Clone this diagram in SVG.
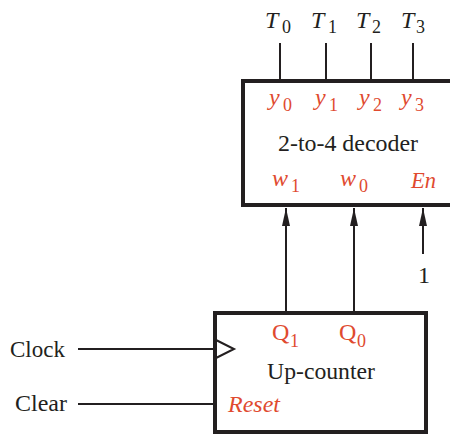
<svg xmlns="http://www.w3.org/2000/svg" width="450" height="436" viewBox="0 0 450 436">
<style>
text{font-family:"Liberation Serif","Times New Roman",serif;font-size:24px;fill:#231f20}
.r{fill:#e04a2f}
.i{font-style:italic}
.s{font-size:18px;font-style:normal}
.box{fill:#fff;stroke:#231f20;stroke-width:4}
.w{stroke:#231f20;stroke-width:2;fill:none}
</style>
<defs>
<marker id="ah" viewBox="0 0 18 8" refX="18" refY="4" markerWidth="18" markerHeight="8" markerUnits="userSpaceOnUse" orient="auto">
<path d="M0,0 L18,4 L0,8 Z" fill="#231f20"/>
</marker>
</defs>
<g id="connectors">
<line class="w" x1="280" y1="43" x2="280" y2="81"/>
<line class="w" x1="326" y1="43" x2="326" y2="81"/>
<line class="w" x1="371" y1="43" x2="371" y2="81"/>
<line class="w" x1="413" y1="43" x2="413" y2="81"/>
<line class="w" x1="286" y1="313" x2="286" y2="208" marker-end="url(#ah)"/>
<line class="w" x1="354" y1="313" x2="354" y2="208" marker-end="url(#ah)"/>
<line class="w" x1="423" y1="254" x2="423" y2="208" marker-end="url(#ah)"/>
<line class="w" x1="78" y1="349" x2="215" y2="349"/>
<line class="w" x1="78" y1="404" x2="215" y2="404"/>
</g>
<g id="labels">
<text x="265" y="28"><tspan class="i">T</tspan><tspan class="s" x="282" dy="5">0</tspan></text>
<text x="311" y="28"><tspan class="i">T</tspan><tspan class="s" x="328" dy="5">1</tspan></text>
<text x="356" y="28"><tspan class="i">T</tspan><tspan class="s" x="372" dy="5">2</tspan></text>
<text x="401" y="28"><tspan class="i">T</tspan><tspan class="s" x="416" dy="5">3</tspan></text>
<text x="418" y="283">1</text>
<text x="10" y="357" textLength="55" lengthAdjust="spacingAndGlyphs">Clock</text>
<text x="15" y="411" textLength="52" lengthAdjust="spacingAndGlyphs">Clear</text>
</g>
<g id="decoder">
<rect class="box" x="243" y="81" width="210" height="124"/>
<text class="r i" x="269" y="105">y<tspan class="s" x="283" dy="6">0</tspan></text>
<text class="r i" x="315" y="105">y<tspan class="s" x="329" dy="6">1</tspan></text>
<text class="r i" x="359" y="105">y<tspan class="s" x="373" dy="6">2</tspan></text>
<text class="r i" x="401" y="105">y<tspan class="s" x="415" dy="6">3</tspan></text>
<text x="278" y="151" textLength="140" lengthAdjust="spacingAndGlyphs">2-to-4 decoder</text>
<text class="r i" x="272" y="186">w<tspan class="s" x="291" dy="6">1</tspan></text>
<text class="r i" x="340" y="186">w<tspan class="s" x="359" dy="6">0</tspan></text>
<text class="r i" x="411" y="188" textLength="25" lengthAdjust="spacingAndGlyphs">En</text>
</g>
<g id="counter">
<rect class="box" x="215" y="313" width="211" height="119"/>
<path class="w" d="M216,340 L234,349 L216,358"/>
<text class="r" x="272" y="340">Q<tspan class="s" x="290" dy="7">1</tspan></text>
<text class="r" x="339" y="340">Q<tspan class="s" x="357" dy="7">0</tspan></text>
<text x="267" y="379" textLength="108" lengthAdjust="spacingAndGlyphs">Up-counter</text>
<text class="r i" x="228" y="412" textLength="52" lengthAdjust="spacingAndGlyphs">Reset</text>
</g>
</svg>
